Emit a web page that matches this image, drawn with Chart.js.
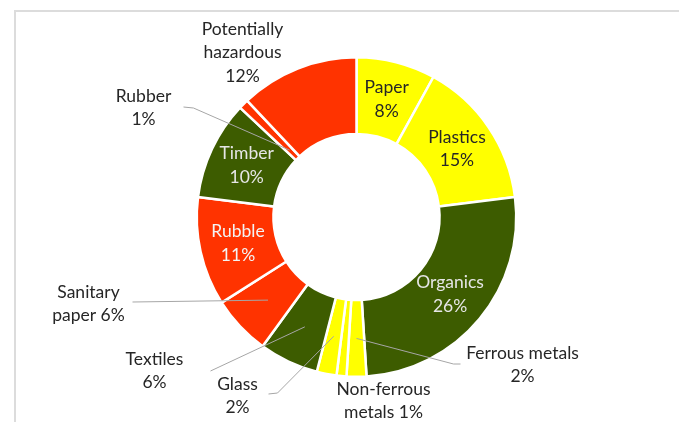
<!DOCTYPE html>
<html lang="en">
<head>
<meta charset="utf-8">
<title>Waste composition</title>
<script src="https://cdn.jsdelivr.net/npm/chart.js@4.4.1/dist/chart.umd.min.js"></script>
<style>
  html, body { margin: 0; padding: 0; background: #fff; }
  #wrap { width: 679px; height: 422px; }
</style>
</head>
<body>
<div id="wrap"><canvas id="wasteChart" width="679" height="422"></canvas></div>
<script>
// ===== DATA =====
const categories = [
  "Paper", "Plastics", "Organics", "Ferrous metals", "Non-ferrous metals",
  "Glass", "Textiles", "Sanitary paper", "Rubble", "Timber", "Rubber",
  "Potentially hazardous",
];
const shares = [8, 15, 26, 2, 1, 2, 6, 6, 11, 10, 1, 12];

// ===== STYLE =====
const YELLOW = "#ffff00";
const GREEN = "#3d5c00";
const RED = "#ff3300";
const sliceColors = [
  YELLOW, YELLOW, GREEN, YELLOW, YELLOW, YELLOW,
  GREEN, RED, RED, GREEN, RED, RED,
];

const FONT = "17.5px Lato, 'Liberation Sans', sans-serif";
const LINE_H = 23.5;

// label text per slice; inside labels sit on the arc centre, outside ones
// are offset from the chart centre and joined by a leader line
const labelLayout = [
  { lines: ["Paper", "8%"], inside: true, color: "#262626" },
  { lines: ["Plastics", "15%"], inside: true, color: "#262626" },
  { lines: ["Organics", "26%"], inside: true, color: "#e6e6e6" },
  { lines: ["Ferrous metals", "2%"], at: [166, 136], lead: [[104, 147], [97, 147]], tip: 0.5 },
  { lines: ["Non-ferrous", "metals 1%"], at: [27, 172] },
  { lines: ["Glass", "2%"], at: [-119, 167], lead: [[-88, 177], [-79, 176]], tip: 0.5 },
  { lines: ["Textiles", "6%"], at: [-202, 142], lead: [[-146, 154]], tip: 0.5 },
  { lines: ["Sanitary", "paper 6%"], at: [-268, 75], lead: [[-224, 85]], tip: 0.5 },
  { lines: ["Rubble", "11%"], inside: true, color: "#f4f4f4" },
  { lines: ["Timber", "10%"], inside: true, color: "#e6e6e6" },
  { lines: ["Rubber", "1%"], at: [-213, -121], lead: [[-173, -110], [-163, -109]], tip: 0.15 },
  { lines: ["Potentially", "hazardous", "12%"], at: [-114, -188] },
];

// light frame around the picture
const framePlugin = {
  id: "frame",
  beforeDraw(chart) {
    const ctx = chart.ctx;
    ctx.save();
    ctx.strokeStyle = "#dcdcdc";
    ctx.lineWidth = 2;
    ctx.strokeRect(15, 11, 800, 600);
    ctx.restore();
  },
};

// data labels and leader lines
const labelPlugin = {
  id: "sliceLabels",
  afterDatasetsDraw(chart) {
    const ctx = chart.ctx;
    const arcs = chart.getDatasetMeta(0).data;
    ctx.save();
    ctx.font = FONT;
    ctx.textAlign = "center";
    ctx.textBaseline = "middle";

    arcs.forEach((arc, i) => {
      const lay = labelLayout[i];
      const p = arc.getProps(["x", "y", "startAngle", "endAngle", "innerRadius", "outerRadius"], true);
      let cx, cy;

      if (lay.inside) {
        const c = arc.getCenterPoint();
        cx = c.x + (lay.nudge ? lay.nudge[0] : 0);
        cy = c.y + (lay.nudge ? lay.nudge[1] : 0);
        ctx.fillStyle = lay.color;
      } else {
        cx = p.x + lay.at[0];
        cy = p.y + lay.at[1];
        ctx.fillStyle = "#262626";

        if (lay.lead) {
          const mid = (p.startAngle + p.endAngle) / 2;
          const r = p.innerRadius + (p.outerRadius - p.innerRadius) * lay.tip;
          ctx.beginPath();
          ctx.strokeStyle = "#a6a6a6";
          ctx.lineWidth = 1;
          ctx.moveTo(p.x + lay.lead[0][0], p.y + lay.lead[0][1]);
          lay.lead.slice(1).forEach((pt) => ctx.lineTo(p.x + pt[0], p.y + pt[1]));
          ctx.lineTo(p.x + Math.cos(mid) * r, p.y + Math.sin(mid) * r);
          ctx.stroke();
        }
        cy += (LINE_H * (lay.lines.length - 1)) / 2;
      }

      const top = cy - (LINE_H * (lay.lines.length - 1)) / 2;
      lay.lines.forEach((t, k) => ctx.fillText(t, cx, top + k * LINE_H));
    });
    ctx.restore();
  },
};

// ===== CHART =====
function initWasteChart() {
  const ctx = document.getElementById("wasteChart").getContext("2d");
  new Chart(ctx, {
    type: "doughnut",
    data: {
      labels: categories,
      datasets: [
        {
          data: shares,
          backgroundColor: sliceColors,
          borderColor: "#ffffff",
          borderWidth: 2.5,
        },
      ],
    },
    options: {
      responsive: false,
      animation: false,
      cutout: "52%",
      layout: { padding: { left: 195, right: 161, top: 56, bottom: 44 } },
      plugins: {
        legend: { display: false },
        tooltip: { enabled: false },
      },
    },
    plugins: [framePlugin, labelPlugin],
  });
}

document.addEventListener("DOMContentLoaded", function () {
  if (typeof Chart !== "undefined") {
    initWasteChart();
  }
});
</script>
</body>
</html>
